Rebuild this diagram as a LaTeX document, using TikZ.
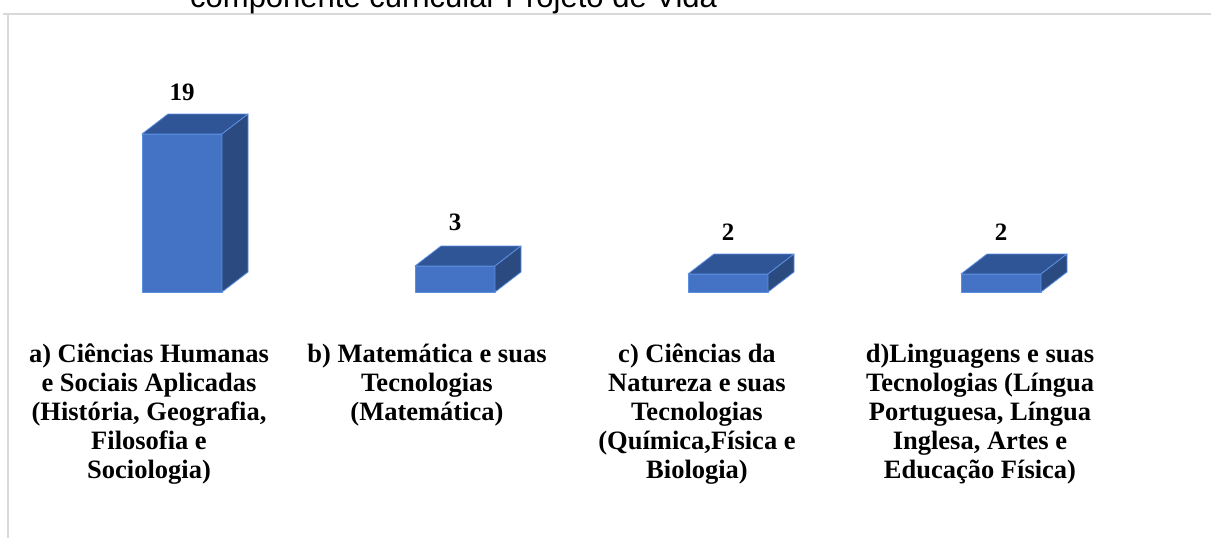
\documentclass[tikz,border=0pt]{standalone}
\usepackage{fontspec}
\setmainfont{Liberation Serif}
\newfontfamily\titlefont{Liberation Sans}
\definecolor{frontc}{HTML}{4472C4}
\definecolor{topc}{HTML}{2F5597}
\definecolor{sidec}{HTML}{2B4A80}
\definecolor{edgec}{HTML}{5B8FE0}
\definecolor{framec}{HTML}{D9D9D9}
\newcommand\drawbar[2]{%
  \filldraw[barfront] ({#1-40},#2) rectangle ({#1+40},292);
  \filldraw[bartop] ({#1-40},#2) -- ({#1-14},{#2-20}) -- ({#1+66},{#2-20}) -- ({#1+40},#2) -- cycle;
  \filldraw[barside] ({#1+40},#2) -- ({#1+66},{#2-20}) -- ({#1+66},272) -- ({#1+40},292) -- cycle;
}
\begin{document}
\begin{tikzpicture}[x=1pt,y=-1pt,
  barfront/.style={fill=frontc,draw=edgec,line width=0.8pt,line join=round},
  bartop/.style={fill=topc,draw=edgec,line width=0.8pt,line join=round},
  barside/.style={fill=sidec,draw=edgec,line width=0.8pt,line join=round},
  val/.style={font=\bfseries\fontsize{25}{28}\selectfont,inner sep=0pt},
  cat/.style={font=\bfseries\fontsize{26.5}{29}\selectfont,align=center,inner sep=0pt,anchor=north},
  titletext/.style={font=\titlefont\fontsize{31}{34}\selectfont,inner sep=0pt,anchor=base west},
  frameline/.style={draw=framec,line width=1.5pt}]
\useasboundingbox (0,0) rectangle (1211,538);
\clip (0,0) rectangle (1211,538);
\coordinate (f1) at (3,14);
\coordinate (f2) at (1211,14);
\coordinate (f3) at (8,14);
\coordinate (f4) at (8,538);
\draw[frameline] (f1) -- (f2);
\draw[frameline] (f3) -- (f4);
\node[titletext] (title) at (190,7) {componente curricular Projeto de Vida};
\drawbar{182}{134}
\drawbar{455}{266}
\drawbar{728}{274}
\drawbar{1001}{274}
\node[val] (v1) at (182,92) {19};
\node[val] (v2) at (455,222) {3};
\node[val] (v3) at (728,232) {2};
\node[val] (v4) at (1001,232) {2};
\node[cat] (c1) at (149,344) {a) Ciências Humanas\\e Sociais Aplicadas\\(História, Geografia,\\Filosofia e\\Sociologia)};
\node[cat] (c2) at (427,344) {b) Matemática e suas\\Tecnologias\\(Matemática)};
\node[cat] (c3) at (697,344) {c) Ciências da\\Natureza e suas\\Tecnologias\\(Química,Física e\\Biologia)};
\node[cat] (c4) at (980,344) {d)Linguagens e suas\\Tecnologias (Língua\\Portuguesa, Língua\\Inglesa, Artes e\\Educação Física)};
\end{tikzpicture}
\end{document}
